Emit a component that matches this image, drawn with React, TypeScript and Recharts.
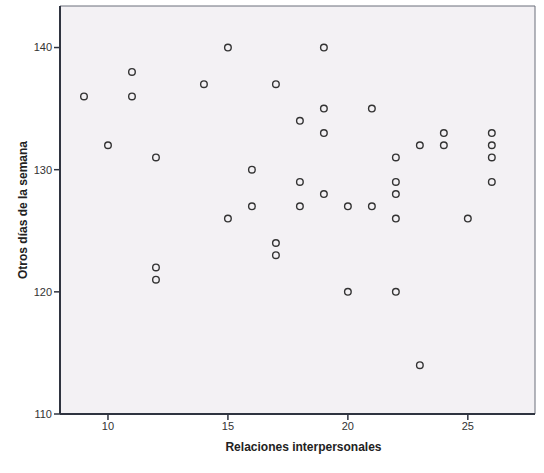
import { ScatterChart, Scatter, XAxis, YAxis, ReferenceArea } from 'recharts';

// Relaciones interpersonales (x) vs Otros días de la semana (y)
const relaciones = [
  9, 10, 11, 11, 12, 12, 12, 14, 15, 15, 16, 16, 17, 17, 17, 18, 18, 18,
  19, 19, 19, 19, 20, 20, 21, 21, 22, 22, 22, 22, 22, 23, 23, 24, 24, 25,
  26, 26, 26, 26,
];
const otrosDias = [
  136, 132, 138, 136, 131, 122, 121, 137, 140, 126, 130, 127, 137, 124, 123, 134, 129, 127,
  140, 135, 133, 128, 127, 120, 135, 127, 131, 129, 128, 126, 120, 132, 114, 133, 132, 126,
  133, 132, 131, 129,
];
const xTicks = [10, 15, 20, 25];
const yTicks = [110, 120, 130, 140];
const xDomain: [number, number] = [8, 27.8];
const yDomain: [number, number] = [110, 143.4];

const points = relaciones.map((x, i) => ({ x, y: otrosDias[i] }));

const tickStyle = { fontSize: 11, fill: '#333', fontFamily: 'Liberation Sans, Arial, sans-serif' };
const titleStyle = { fontSize: 12, fontWeight: 'bold', fill: '#222', fontFamily: 'Liberation Sans, Arial, sans-serif' };

const OpenCircle = (props: { cx?: number; cy?: number }) => (
  <circle cx={props.cx} cy={props.cy} r={3.3} fill="none" stroke="#333" strokeWidth={1.4} />
);

export default function App() {
  return (
    <div style={{ width: 544, height: 473, background: '#fff' }}>
      <style>{'body{margin:0}'}</style>
      <ScatterChart width={544} height={473} margin={{ top: 6, right: 9, left: 0, bottom: 0 }}>
        <ReferenceArea
          x1={xDomain[0]}
          x2={xDomain[1]}
          y1={yDomain[0]}
          y2={yDomain[1]}
          fill="#f3f1f4"
          fillOpacity={1}
          stroke="#6a6f7a"
          strokeWidth={1}
          ifOverflow="visible"
        />
        <XAxis
          type="number"
          dataKey="x"
          domain={xDomain}
          ticks={xTicks}
          allowDataOverflow
          height={59}
          axisLine={{ stroke: '#2f3440', strokeWidth: 2 }}
          tickLine={{ stroke: '#2f3440', strokeWidth: 1.5 }}
          tickSize={6}
          tick={tickStyle}
          label={{
            value: 'Relaciones interpersonales',
            position: 'center',
            dx: 6,
            dy: 3,
            style: titleStyle,
          }}
        />
        <YAxis
          type="number"
          dataKey="y"
          domain={yDomain}
          ticks={yTicks}
          allowDataOverflow
          width={60}
          axisLine={{ stroke: '#2f3440', strokeWidth: 2 }}
          tickLine={{ stroke: '#2f3440', strokeWidth: 1.5 }}
          tickSize={6}
          tick={tickStyle}
          label={{
            value: 'Otros días de la semana',
            angle: -90,
            position: 'center',
            dx: -7,
            style: titleStyle,
          }}
        />
        <Scatter data={points} shape={OpenCircle} isAnimationActive={false} />
      </ScatterChart>
    </div>
  );
}
